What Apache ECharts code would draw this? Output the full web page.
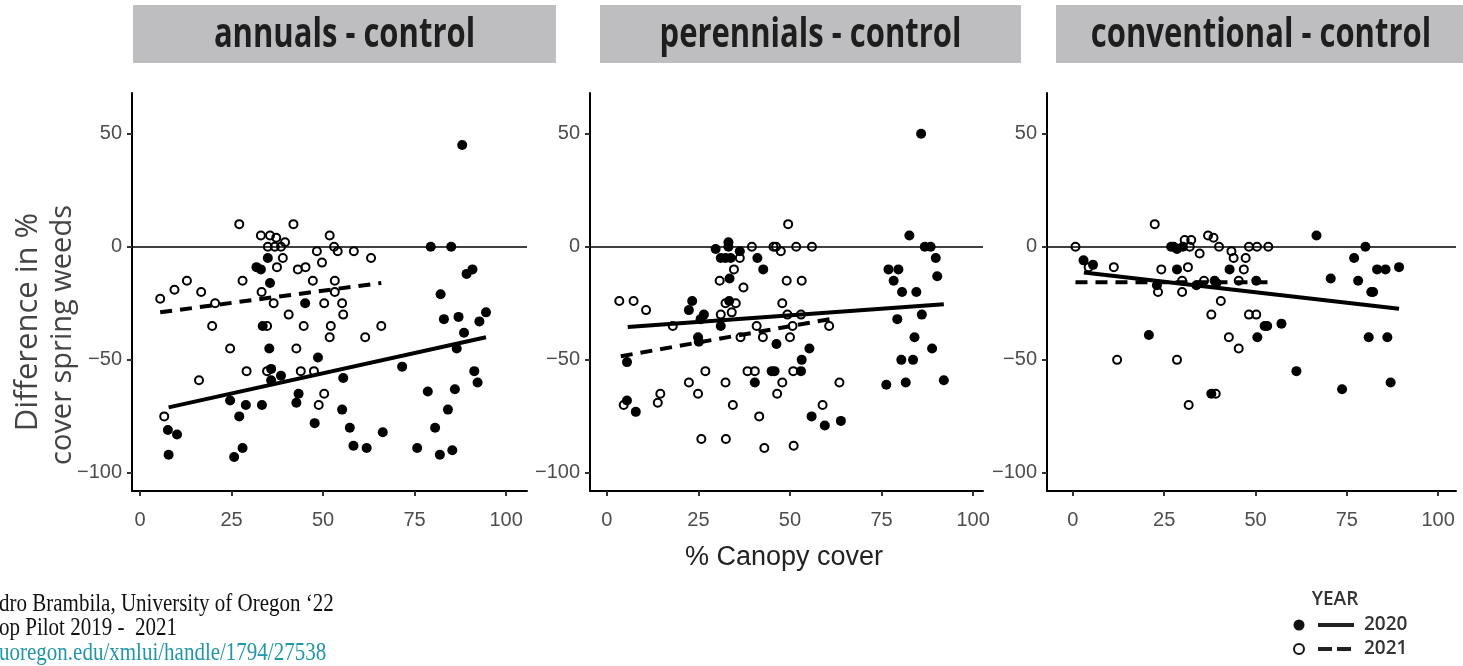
<!DOCTYPE html>
<html>
<head>
<meta charset="utf-8">
<title>Canopy cover vs spring weeds</title>
<script src="https://cdn.jsdelivr.net/npm/echarts@6/dist/echarts.min.js"></script>
<style>
  html, body { margin: 0; padding: 0; background: #fff; }
  #chart { width: 1463px; height: 666px; }
</style>
</head>
<body>
<div id="chart"></div>
<script>
// tick labels
const xTicks = [0, 25, 50, 75, 100];
const yTicks = [-100, -50, 0, 50];
const panelTitles = ['annuals - control', 'perennials - control', 'conventional - control'];
const years = ['2020', '2021'];

// annuals - control  ([canopy cover, difference])
const annuals2020 = [
  [88, 45], [79.4, 0], [85, 0], [90.8, -10], [89.2, -12], [82.1, -21], [83, -32], [87, -31],
  [94.5, -29], [92.7, -33], [88.5, -38], [86.5, -45], [91.3, -55], [92.2, -60], [86, -63],
  [78.6, -64], [84.1, -72], [80.6, -80], [75.7, -89], [81.9, -92], [85.3, -90], [71.6, -53],
  [66.3, -82], [61.9, -89], [58.3, -88], [57.3, -80], [55.2, -72], [55.5, -58], [48.6, -49],
  [47.7, -78], [45.1, -25], [43.3, -65], [42.7, -69], [38.5, -57], [35.8, -54], [35.8, -59],
  [35.3, -45], [35.5, -16], [34.9, -5], [33, -10], [31.8, -9], [33.5, -35], [33.3, -70],
  [28.9, -70], [24.6, -68], [27.1, -75], [28, -89], [25.7, -93], [7.6, -81], [10.1, -83], [7.8, -92]
];
const annuals2021 = [
  [5.5, -23], [9.4, -19], [12.8, -15], [16.7, -20], [20.5, -25], [19.7, -35], [16.1, -59],
  [6.6, -75], [24.6, -45], [27.1, 10], [28, -15], [29.1, -55], [33, 5], [35.5, 5], [37.2, 4],
  [34.9, 0], [36.8, 0], [38.5, 0], [39.6, 2], [39, -5], [37.4, -9], [33.2, -20], [36.5, -25],
  [34.7, -35], [34.7, -55], [40.6, -30], [41.9, 10], [43.1, -10], [45.2, -9], [42.7, -45],
  [44.7, -35], [43.9, -55], [47.2, -15], [47.5, -55], [48.8, -70], [50.3, -65], [48.3, -2],
  [49.7, -7], [50.3, -25], [51.8, 5], [53, 0], [54, -2], [53.2, -15], [53.2, -20], [55.2, -25],
  [55.5, -30], [52.1, -35], [51.8, -40], [58.4, -2], [63.1, -5], [61.5, -40], [65.9, -35]
];
const annualsFit2020 = [[7.8, -71], [94.5, -40]];
const annualsFit2021 = [[5.5, -29], [65.9, -16]];

// perennials - control
const perennials2020 = [
  [85.8, 50], [82.6, 5], [86.8, 0], [88.4, 0], [89.8, -5], [90.2, -13], [76.9, -10], [79.6, -10],
  [78.3, -15], [80.6, -20], [84.5, -20], [79.3, -32], [86, -30], [84, -40], [80.4, -50],
  [83.6, -50], [88.8, -45], [76.3, -61], [81.6, -60], [92, -59], [29.7, -1], [33.2, 2], [33.2, 0],
  [31.1, -5], [32.4, -5], [33.8, -5], [36.3, -2], [41.1, -5], [42.7, -10], [33.5, -14],
  [33.4, -24], [23.3, -24], [22.4, -28], [26.5, -30], [25.6, -32], [31.1, -35], [24.9, -40],
  [25.1, -42], [5.5, -51], [5.5, -68], [7.9, -73], [40.4, -60], [45, -55], [45.8, -55],
  [46.3, -43], [53.2, -50], [53, -55], [55.3, -45], [55.9, -75], [59.5, -79], [63.9, -77]
];
const perennials2021 = [
  [3.4, -24], [7.3, -24], [10.7, -28], [4.6, -70], [13.9, -69], [14.6, -65], [18, -35],
  [22.4, -60], [24.9, -65], [25.8, -85], [26.9, -55], [30.8, -15], [31.1, -30], [32.4, -60],
  [32.5, -85], [32.4, -25], [35.2, -25], [34.1, -29], [34.4, -70], [34.7, -10], [36.3, -5],
  [37.3, -18], [36.5, -40], [38.4, -55], [40.4, -55], [39.6, 0], [40.9, -35], [41.6, -75],
  [42.6, -40], [43, -89], [45.5, 0], [46.2, 0], [47.5, -2], [47.9, -25], [47.9, -60], [46.5, -65],
  [49.1, -15], [49.5, 10], [49.3, -30], [50, -40], [50.7, -35], [51, -88], [50.9, -55], [51.7, 0],
  [53, -30], [53.2, -15], [56, 0], [58.9, -70], [60.7, -35], [63.5, -60]
];
const perennialsFit2020 = [[5.7, -35.5], [92, -25.4]];
const perennialsFit2021 = [[3.8, -48.4], [62.6, -31.5]];

// conventional - control
const conventional2020 = [
  [2.9, -6], [5.5, -8], [20.8, -39], [23, -17], [26.9, 0], [27.6, 0], [28.5, -1], [28.5, -10],
  [30.1, 0], [33.8, -17], [37.9, -65], [38.8, -15], [39.3, -16], [42.9, -10], [50.2, -15],
  [50.5, -40], [52.5, -35], [53.2, -35], [57.1, -34], [61.2, -55], [66.7, 5], [70.6, -14],
  [73.7, -63], [77, -5], [78.1, -15], [80.1, 0], [81, -40], [81.7, -20], [82.2, -20],
  [83.3, -10], [85.6, -10], [86.1, -40], [87, -60], [89.3, -9]
];
const conventional2021 = [
  [0.7, 0], [4.3, -9], [11.2, -9], [12.1, -50], [22.4, 10], [23.3, -20], [24.2, -10], [28.5, -50],
  [29.9, -15], [29.9, -20], [30.6, 3], [32.4, 3], [32, 0], [31.5, -9], [31.7, -70], [34.7, -3],
  [35.9, -15], [37, 5], [38.5, 4], [37.9, -30], [39.1, -65], [40, 0], [40.5, -24], [42.7, -40],
  [43.4, -2], [44, -5], [45.4, -15], [45.4, -45], [46.8, -10], [47.3, -5], [48.2, 0], [50.4, 0],
  [53.5, 0], [48.2, -30], [50.2, -30]
];
const conventionalFit2020 = [[3, -11.4], [89.3, -27.4]];
const conventionalFit2021 = [[0.7, -15.7], [53.6, -15.7]];

const panelPoints = [
  [annuals2020, annuals2021],
  [perennials2020, perennials2021],
  [conventional2020, conventional2021]
];
const panelFits = [
  [annualsFit2020, annualsFit2021],
  [perennialsFit2020, perennialsFit2021],
  [conventionalFit2020, conventionalFit2021]
];

// layout
const panels = [
  { left: 132, width: 395, xMin: -2.2, xMax: 105.7, strip: [133, 423] },
  { left: 590, width: 393, xMin: -4.6, xMax: 102.7, strip: [600, 421] },
  { left: 1047, width: 409, xMin: -7.1, xMax: 104.9, strip: [1056, 410] }
];
const plotTop = 93, plotHeight = 398;

const tickFont = '"Liberation Sans", Arial, sans-serif';

const chart = echarts.init(document.getElementById('chart'));

const grid = [], xAxis = [], yAxis = [], series = [], graphic = [];

panels.forEach((p, i) => {
  grid.push({ left: p.left, top: plotTop, width: p.width, height: plotHeight });
  xAxis.push({
    type: 'value', gridIndex: i, min: p.xMin, max: p.xMax,
    splitLine: { show: false },
    axisLine: { show: true, onZero: false, lineStyle: { color: '#000', width: 2 } },
    axisTick: { show: true, customValues: xTicks, length: 5, lineStyle: { color: '#333', width: 2 } },
    axisLabel: { customValues: xTicks, color: '#4d4d4d', fontSize: 20, fontFamily: tickFont, margin: 19 }
  });
  yAxis.push({
    type: 'value', gridIndex: i, min: -108, max: 68,
    splitLine: { show: false },
    axisLine: { show: true, onZero: false, lineStyle: { color: '#000', width: 2 } },
    axisTick: { show: true, customValues: yTicks, length: 5, lineStyle: { color: '#333', width: 2 } },
    axisLabel: {
      customValues: yTicks, color: '#4d4d4d', fontSize: 20, fontFamily: tickFont, margin: 10,
      formatter: v => (v < 0 ? '\u2212' + Math.abs(v) : String(v))
    }
  });

  const [pts2020, pts2021] = panelPoints[i];
  const [fit2020, fit2021] = panelFits[i];

  series.push({
    name: years[0], type: 'scatter', xAxisIndex: i, yAxisIndex: i,
    data: pts2020, symbolSize: 10, itemStyle: { color: '#000', opacity: 1 }, z: 3,
    markLine: {
      silent: true, symbol: ['none', 'none'], label: { show: false },
      lineStyle: { color: '#000', width: 1.6, type: 'solid' },
      data: [{ yAxis: 0 }]
    }
  });
  series.push({
    name: years[1], type: 'scatter', xAxisIndex: i, yAxisIndex: i,
    data: pts2021, symbolSize: 8,
    itemStyle: { color: 'rgba(255,255,255,0)', borderColor: '#000', borderWidth: 2, opacity: 1 }, z: 3
  });
  series.push({
    name: years[0] + ' fit', type: 'line', xAxisIndex: i, yAxisIndex: i,
    data: fit2020, showSymbol: false, symbol: 'none', z: 4,
    lineStyle: { color: '#000', width: 4 }
  });
  series.push({
    name: years[1] + ' fit', type: 'line', xAxisIndex: i, yAxisIndex: i,
    data: fit2021, showSymbol: false, symbol: 'none', z: 4,
    lineStyle: { color: '#000', width: 4, type: [12, 8] }
  });

  // facet strip
  graphic.push({
    type: 'rect', shape: { x: p.strip[0], y: 5, width: p.strip[1], height: 58 },
    style: { fill: '#bebec1' }, z: 1
  });
  graphic.push({
    type: 'text', x: p.strip[0] + p.strip[1] / 2, y: 35, scaleY: 1.32,
    style: {
      text: panelTitles[i], fill: '#1e1e1e', font: 'bold 31px "Open Sans", sans-serif',
      align: 'center', verticalAlign: 'middle'
    }, z: 2
  });
});

// y-axis title (two lines)
graphic.push({
  type: 'text', x: 28, y: 322, rotation: Math.PI / 2,
  style: { text: 'Difference in %', fill: '#444', font: '31px "Open Sans", sans-serif', align: 'center', verticalAlign: 'middle' }
});
graphic.push({
  type: 'text', x: 63, y: 335, rotation: Math.PI / 2,
  style: { text: 'cover spring weeds', fill: '#444', font: '29px "Open Sans", sans-serif', align: 'center', verticalAlign: 'middle' }
});
// x-axis title
graphic.push({
  type: 'text', x: 784, y: 558,
  style: { text: '% Canopy cover', fill: '#222', font: '27px "Liberation Sans", Arial, sans-serif', align: 'center', verticalAlign: 'middle' }
});

// legend
graphic.push({
  type: 'text', x: 1335, y: 600,
  style: { text: 'YEAR', fill: '#333', font: '600 19px "Open Sans", sans-serif', align: 'center', verticalAlign: 'middle' }
});
graphic.push({ type: 'circle', shape: { cx: 1299, cy: 625, r: 5.5 }, style: { fill: '#111' } });
graphic.push({ type: 'line', shape: { x1: 1318, y1: 625, x2: 1354, y2: 625 }, style: { stroke: '#222', lineWidth: 4 } });
graphic.push({
  type: 'text', x: 1364, y: 625,
  style: { text: years[0], fill: '#333', font: '600 19px "Open Sans", sans-serif', align: 'left', verticalAlign: 'middle' }
});
graphic.push({ type: 'circle', shape: { cx: 1299, cy: 649, r: 5 }, style: { fill: 'none', stroke: '#111', lineWidth: 2 } });
graphic.push({
  type: 'line', shape: { x1: 1318, y1: 649, x2: 1354, y2: 649 },
  style: { stroke: '#222', lineWidth: 4, lineDash: [14, 5] }
});
graphic.push({
  type: 'text', x: 1364, y: 649,
  style: { text: years[1], fill: '#333', font: '600 19px "Open Sans", sans-serif', align: 'left', verticalAlign: 'middle' }
});

// source credit (cut off at the left edge)
const creditFont = '21px "Liberation Serif", "Times New Roman", serif';
graphic.push({
  type: 'text', x: -1, y: 605, scaleY: 1.15,
  style: { text: 'dro Brambila, University of Oregon \u201822', fill: '#111', font: creditFont, align: 'left', verticalAlign: 'middle' }
});
graphic.push({
  type: 'text', x: -1, y: 629, scaleY: 1.15,
  style: { text: 'op Pilot 2019 -  2021', fill: '#111', font: creditFont, align: 'left', verticalAlign: 'middle' }
});
graphic.push({
  type: 'text', x: -1, y: 654, scaleY: 1.15,
  style: { text: 'uoregon.edu/xmlui/handle/1794/27538', fill: '#2196a8', font: creditFont, align: 'left', verticalAlign: 'middle' }
});

chart.setOption({
  animation: false,
  backgroundColor: '#fff',
  grid: grid,
  xAxis: xAxis,
  yAxis: yAxis,
  series: series,
  graphic: graphic
});
</script>
</body>
</html>
